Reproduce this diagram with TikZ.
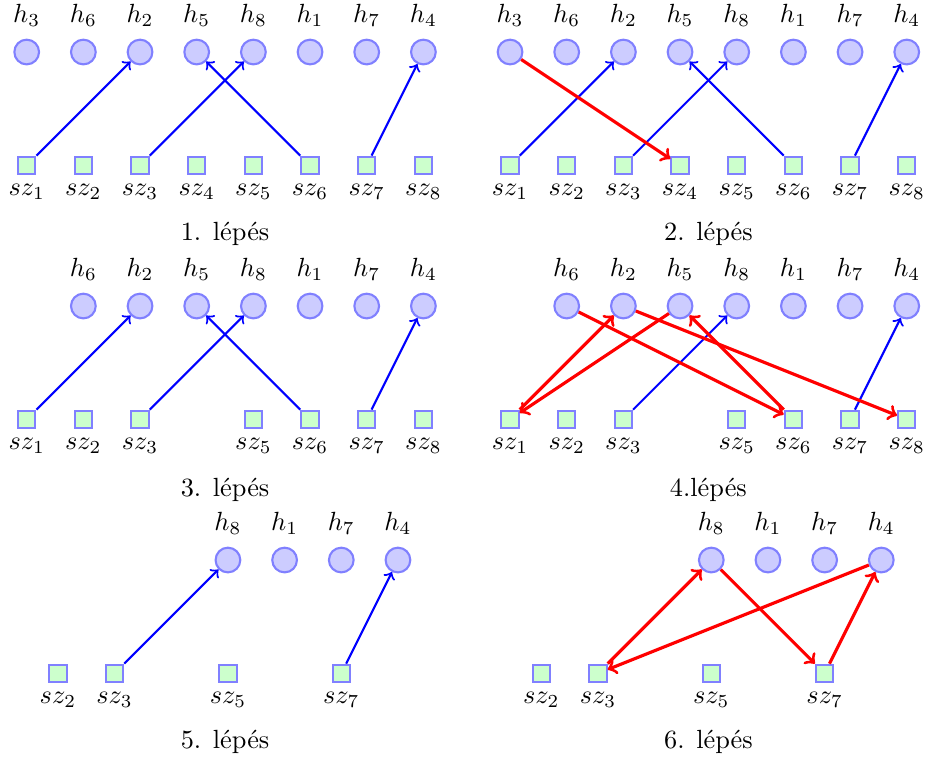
\documentclass[tikz,border=0pt]{standalone}
\usepackage{fontspec}
\tikzset{
  hnode/.style={circle,draw=blue!50,fill=blue!20,thick,minimum size=9.4pt,inner sep=0pt},
  sznode/.style={rectangle,draw=blue!50,fill=green!20,thick,minimum size=6.6pt,inner sep=0pt},
  hlab/.style={label distance=1.2pt},
  barrow/.style={->,draw=blue,thick},
  rarrow/.style={->,draw=red,very thick},
  captext/.style={anchor=base}
}
\newcommand\drawpanel[5]{%
  \foreach \i/\n in {#4} {\node[hnode,label={[hlab]above:$h_{\n}$}] (#1h\n) at ({#2+\i},{#3}) {};}
  \foreach \i/\n in {#5} {\node[sznode,label={below:$sz_{\n}$}] (#1s\n) at ({#2+\i},{#3-2}) {};}
}
\begin{document}
\begin{tikzpicture}[x=21.55pt,y=21.55pt]
\useasboundingbox (0,0) rectangle (16.34,13.376);
% row 1
\drawpanel{a}{0.471}{12.458}{0/3,1/6,2/2,3/5,4/8,5/1,6/7,7/4}{0/1,1/2,2/3,3/4,4/5,5/6,6/7,7/8}
\drawpanel{b}{9.0}{12.458}{0/3,1/6,2/2,3/5,4/8,5/1,6/7,7/4}{0/1,1/2,2/3,3/4,4/5,5/6,6/7,7/8}
% row 2
\drawpanel{c}{0.471}{7.976}{1/6,2/2,3/5,4/8,5/1,6/7,7/4}{0/1,1/2,2/3,4/5,5/6,6/7,7/8}
\drawpanel{d}{9.0}{7.976}{1/6,2/2,3/5,4/8,5/1,6/7,7/4}{0/1,1/2,2/3,4/5,5/6,6/7,7/8}
% row 3
\drawpanel{e}{0.022}{3.494}{4/8,5/1,6/7,7/4}{1/2,2/3,4/5,6/7}
\drawpanel{f}{8.551}{3.494}{4/8,5/1,6/7,7/4}{1/2,2/3,4/5,6/7}
% panel 1
\draw[barrow] (as1) -- (ah2);
\draw[barrow] (as3) -- (ah8);
\draw[barrow] (as6) -- (ah5);
\draw[barrow] (as7) -- (ah4);
% panel 2
\draw[barrow] (bs1) -- (bh2);
\draw[barrow] (bs3) -- (bh8);
\draw[barrow] (bs6) -- (bh5);
\draw[barrow] (bs7) -- (bh4);
\draw[rarrow] (bh3) -- (bs4);
% panel 3
\draw[barrow] (cs1) -- (ch2);
\draw[barrow] (cs3) -- (ch8);
\draw[barrow] (cs6) -- (ch5);
\draw[barrow] (cs7) -- (ch4);
% panel 4
\draw[barrow] (ds3) -- (dh8);
\draw[barrow] (ds7) -- (dh4);
\draw[rarrow] (dh6) -- (ds6);
\draw[rarrow] (ds6) -- (dh5);
\draw[rarrow] (dh5) -- (ds1);
\draw[rarrow] (ds1) -- (dh2);
\draw[rarrow] (dh2) -- (ds8);
% panel 5
\draw[barrow] (es3) -- (eh8);
\draw[barrow] (es7) -- (eh4);
% panel 6
\draw[rarrow] (fh4) -- (fs3);
\draw[rarrow] (fs3) -- (fh8);
\draw[rarrow] (fh8) -- (fs7);
\draw[rarrow] (fs7) -- (fh4);
% captions
\node[captext] (cap1) at (3.971,9.128) {1. lépés};
\node[captext] (cap2) at (12.5,9.128) {2. lépés};
\node[captext] (cap3) at (3.971,4.62) {3. lépés};
\node[captext] (cap4) at (12.5,4.62) {4.lépés};
\node[captext] (cap5) at (3.971,0.16) {5. lépés};
\node[captext] (cap6) at (12.5,0.16) {6. lépés};
\end{tikzpicture}
\end{document}
